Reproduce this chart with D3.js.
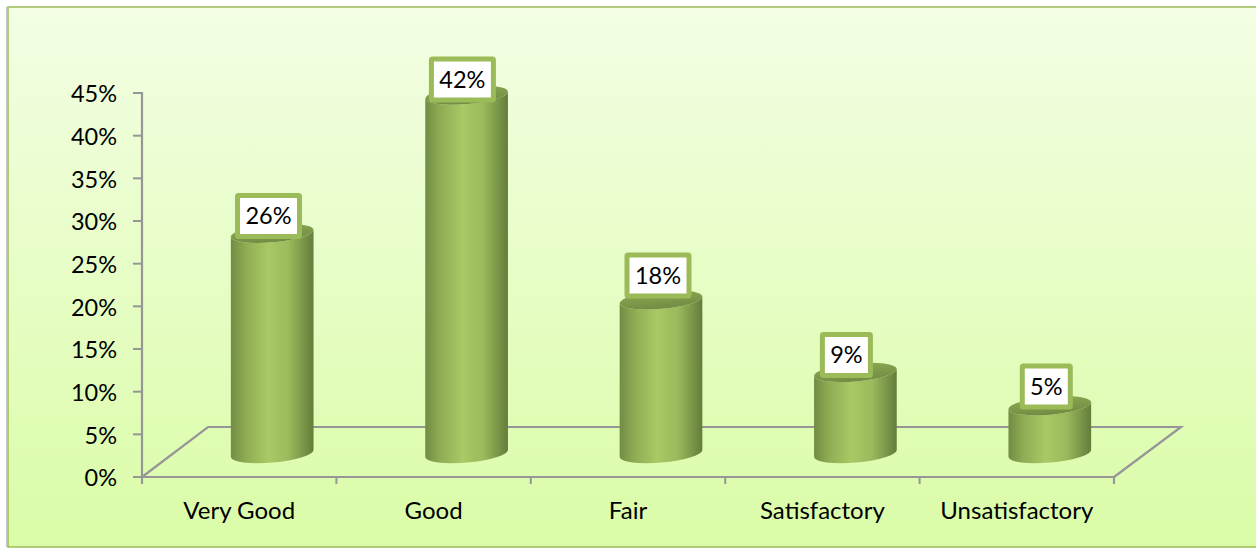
<!DOCTYPE html>
<html>
<head>
<meta charset="utf-8">
<script src="https://cdn.jsdelivr.net/npm/d3@7/dist/d3.min.js"></script>
<style>
  html, body { margin: 0; padding: 0; background: #fff; }
  svg { display: block; }
  text { font-family: Lato, "Open Sans", sans-serif; fill: #000; }
</style>
</head>
<body>
<div id="chart"></div>
<script>
var categories = ['Very Good', 'Good', 'Fair', 'Satisfactory', 'Unsatisfactory'];
var values = [25.8, 42, 18, 9.5, 5.6];
var labels = ['26%', '42%', '18%', '9%', '5%'];
var yTicks = [0, 5, 10, 15, 20, 25, 30, 35, 40, 45];

// the data labels were placed by hand in the original
var labelNudgeX = [-3.7, -4.2, -3, -9, -3.5];
var labelNudgeY = [-17.3, -15.6, -24.4, -17.4, -19.2];

var width = 1256, height = 548;
var margin = { left: 142, right: 1114, top: 93, bottom: 477 };
var depthX = 66, depthY = 50;   // offset of the back wall
var barHalf = 41.5, barRy = 9, tilt = 5 * Math.PI / 180;
var barShift = 33, barSink = 23.5; // cylinders stand in the middle of the floor
var fontSize = '24px';

var svg = d3.select('#chart').append('svg').attr('width', width).attr('height', height);
var defs = svg.append('defs');

var bg = defs.append('linearGradient').attr('id', 'bg').attr('x1', 0).attr('y1', 0).attr('x2', 0).attr('y2', 1);
bg.append('stop').attr('offset', '0%').attr('stop-color', '#f3fee4');
bg.append('stop').attr('offset', '100%').attr('stop-color', '#dafca7');

var side = defs.append('linearGradient').attr('id', 'side').attr('x1', 0).attr('y1', 0).attr('x2', 1).attr('y2', 0);
side.append('stop').attr('offset', '0%').attr('stop-color', '#718c44');
side.append('stop').attr('offset', '18%').attr('stop-color', '#8fac53');
side.append('stop').attr('offset', '45%').attr('stop-color', '#a8c965');
side.append('stop').attr('offset', '70%').attr('stop-color', '#9aba5c');
side.append('stop').attr('offset', '100%').attr('stop-color', '#647d3b');

var cap = defs.append('linearGradient').attr('id', 'cap').attr('x1', 0).attr('y1', 0).attr('x2', 0).attr('y2', 1);
cap.append('stop').attr('offset', '0%').attr('stop-color', '#8ba850');
cap.append('stop').attr('offset', '100%').attr('stop-color', '#728b43');

// panel, its right edge runs off the page
svg.append('rect')
  .attr('x', 8).attr('y', 7).attr('width', width).attr('height', height - 8)
  .attr('fill', 'url(#bg)').attr('stroke', '#9bbb59').attr('stroke-width', 1.5);
svg.append('line')
  .attr('x1', 6.5).attr('x2', 6.5).attr('y1', 7).attr('y2', height - 1)
  .attr('stroke', '#c4c4c4').attr('stroke-width', 1);

var y = d3.scaleLinear().domain([0, 45]).range([margin.bottom, margin.top]);
var x = d3.scaleBand().domain(categories).range([margin.left, margin.right]);
var xEdges = d3.scaleLinear().domain([0, categories.length]).range([margin.left, margin.right]);

var gray = '#969696';

// floor
var floor = d3.path();
floor.moveTo(margin.left, margin.bottom);
floor.lineTo(margin.left + depthX, margin.bottom - depthY);
floor.lineTo(margin.right + depthX + 1, margin.bottom - depthY);
floor.lineTo(margin.right, margin.bottom);
svg.append('path').attr('d', floor.toString()).attr('fill', 'none')
  .attr('stroke', gray).attr('stroke-width', 2.2);

// axes
var yAxis = svg.append('g').attr('transform', 'translate(' + margin.left + ',0)')
  .call(d3.axisLeft(y).offset(0).tickValues(yTicks).tickSize(9).tickPadding(16).tickFormat(function(d) { return d + '%'; }));
var xAxis = svg.append('g').attr('transform', 'translate(0,' + margin.bottom + ')')
  .call(d3.axisBottom(xEdges).offset(0).tickValues(d3.range(categories.length + 1)).tickSize(7).tickFormat(''));
var xLabels = svg.append('g').attr('transform', 'translate(0,' + margin.bottom + ')')
  .call(d3.axisBottom(x).offset(0).tickSize(0).tickPadding(25));
xLabels.select('.domain').remove();

[yAxis, xAxis].forEach(function(a) {
  a.selectAll('.domain').attr('stroke', gray).attr('stroke-width', 2.2);
  a.selectAll('.tick line').attr('stroke', gray).attr('stroke-width', 2);
});
yAxis.selectAll('text').style('font-size', '23.5px').attr('fill', '#000').attr('dy', '0.4em');
xLabels.selectAll('text').style('font-size', fontSize).attr('fill', '#000');

// cylinders
function barCenter(c) { return x(c) + x.bandwidth() / 2 + barShift; }
function ends(cx, cy) {
  var dx = barHalf * Math.cos(tilt), dy = barHalf * Math.sin(tilt);
  return { lx: cx - dx, ly: cy + dy, rx: cx + dx, ry: cy - dy };
}
var deg = -tilt * 180 / Math.PI;
function bodyPath(c, v) {
  var cx = barCenter(c);
  var t = ends(cx, y(v) - barSink), b = ends(cx, y(0) - barSink);
  return 'M' + t.lx + ',' + t.ly + 'L' + b.lx + ',' + b.ly +
    'A' + barHalf + ',' + barRy + ' ' + deg + ' 0 0 ' + b.rx + ',' + b.ry +
    'L' + t.rx + ',' + t.ry +
    'A' + barHalf + ',' + barRy + ' ' + deg + ' 0 1 ' + t.lx + ',' + t.ly + 'Z';
}

var data = categories.map(function(c, i) {
  return { cat: c, value: values[i], label: labels[i], nx: labelNudgeX[i], ny: labelNudgeY[i] };
});
var bars = svg.selectAll('g.bar').data(data).enter().append('g').attr('class', 'bar');

bars.append('path').attr('d', function(d) { return bodyPath(d.cat, d.value); }).attr('fill', 'url(#side)');
bars.append('ellipse')
  .attr('rx', barHalf).attr('ry', barRy)
  .attr('transform', function(d) {
    return 'translate(' + barCenter(d.cat) + ',' + (y(d.value) - barSink) + ') rotate(' + deg + ')';
  })
  .attr('fill', 'url(#cap)');

// data labels
function labelX(d) { return barCenter(d.cat) + d.nx; }
function labelY(d) { return y(d.value) - barSink + d.ny; }
function labelW(d) { return d.label.length > 2 ? 62 : 48; }
bars.append('rect')
  .attr('x', function(d) { return labelX(d) - labelW(d) / 2; })
  .attr('y', function(d) { return labelY(d) - 20.5; })
  .attr('width', labelW).attr('height', 41).attr('rx', 1)
  .attr('fill', '#fff').attr('stroke', '#9bbb59').attr('stroke-width', 5).attr('stroke-linejoin', 'round');
bars.append('text')
  .attr('x', labelX)
  .attr('y', labelY)
  .attr('dy', '0.35em').attr('text-anchor', 'middle')
  .style('font-size', '23.5px')
  .text(function(d) { return d.label; });
</script>
</body>
</html>
